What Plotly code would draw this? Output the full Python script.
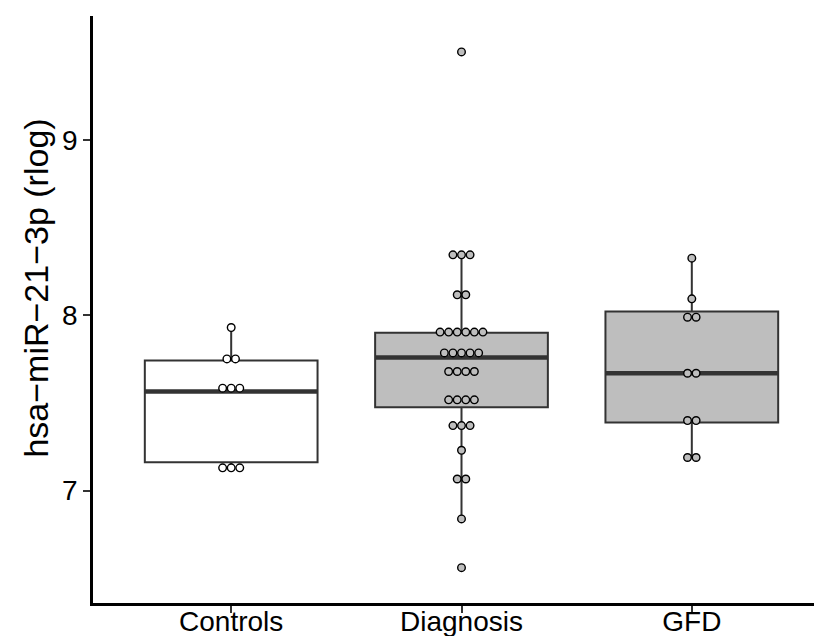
import plotly.graph_objects as go
from collections import Counter

groups = ["Controls", "Diagnosis", "GFD"]
q1 = [7.162, 7.476, 7.389]
median = [7.566, 7.760, 7.670]
q3 = [7.743, 7.901, 8.023]
lower = [7.13, 6.838, 7.189]
upper = [7.931, 8.35, 8.327]

# dot values (binned dotplot, one entry per sample)
controls_vals = [7.931, 7.752, 7.752, 7.585, 7.585, 7.585, 7.13, 7.13, 7.13]
diagnosis_vals = [9.505, 8.346, 8.346, 8.346, 8.118, 8.118,
                  7.905, 7.905, 7.905, 7.905, 7.905, 7.905,
                  7.786, 7.786, 7.786, 7.786, 7.786,
                  7.680, 7.680, 7.680, 7.680,
                  7.518, 7.518, 7.518, 7.518,
                  7.371, 7.371, 7.371,
                  7.230, 7.066, 7.066, 6.838, 6.560]
gfd_vals = [8.327, 8.095, 7.990, 7.990, 7.670, 7.670, 7.400, 7.400, 7.189, 7.189]
dot_vals = [controls_vals, diagnosis_vals, gfd_vals]

box_fill = ["white", "#BEBEBE", "#BEBEBE"]
dot_fill = ["white", "#BEBEBE", "#BEBEBE"]
line_col = "#333333"
box_w = 0.75
dot_w = 0.0372  # dot spacing in x units

fig = go.Figure()

for i, g in enumerate(groups):
    fig.add_trace(go.Box(
        x=[i], q1=[q1[i]], median=[median[i]], q3=[q3[i]],
        lowerfence=[lower[i]], upperfence=[upper[i]],
        width=box_w, whiskerwidth=0, boxpoints=False,
        fillcolor=box_fill[i], line=dict(color=line_col, width=2),
        showlegend=False, hoverinfo="skip",
    ))

for i, g in enumerate(groups):
    fig.add_trace(go.Scatter(
        x=[i - box_w / 2, i + box_w / 2], y=[median[i], median[i]],
        mode="lines", line=dict(color=line_col, width=4.5),
        showlegend=False, hoverinfo="skip",
    ))

for i, g in enumerate(groups):
    xs, ys = [], []
    counts = Counter(dot_vals[i])
    for v, k in counts.items():
        for j in range(k):
            xs.append(i + (j - (k - 1) / 2) * dot_w)
            ys.append(v)
    fig.add_trace(go.Scatter(
        x=xs, y=ys, mode="markers",
        marker=dict(size=7.6, color=dot_fill[i], line=dict(color="black", width=1.4)),
        showlegend=False, hoverinfo="skip",
    ))

fig.add_annotation(
    text="hsa\u2212miR\u221221\u22123p (rlog)", textangle=-90,
    xref="paper", yref="paper", x=-0.077, y=0.536,
    xanchor="center", yanchor="middle", showarrow=False,
    font=dict(size=34, color="black"),
)

fig.update_layout(
    width=822, height=636,
    margin=dict(l=85, r=0, t=8, b=41),
    plot_bgcolor="white", paper_bgcolor="white",
    font=dict(family="Liberation Sans, Arial, sans-serif", color="black"),
    xaxis=dict(
        range=[-0.6, 2.6], tickvals=[0, 1, 2], ticktext=groups,
        showline=True, linecolor="black", linewidth=2.5, mirror=False,
        ticks="outside", ticklen=7, tickwidth=2, tickcolor=line_col,
        showgrid=False, zeroline=False, ticklabelstandoff=-15,
        tickfont=dict(size=28, color="black"),
    ),
    yaxis=dict(
        range=[6.358, 9.71], tickvals=[7, 8, 9],
        showline=True, linecolor="black", linewidth=2.5,
        ticks="outside", ticklen=7, tickwidth=2, tickcolor=line_col,
        showgrid=False, zeroline=False,
        tickfont=dict(size=28, color="black"),
    ),
)

fig.write_html("out.html")
